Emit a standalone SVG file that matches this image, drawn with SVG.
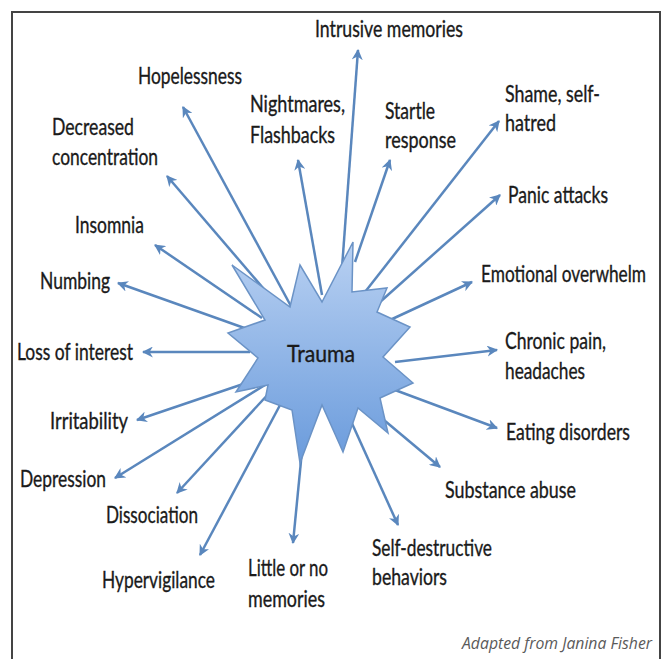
<svg xmlns="http://www.w3.org/2000/svg" width="667" height="659" viewBox="0 0 667 659">
<style>
.t{font-family:Lato,"Open Sans","Noto Sans",sans-serif;font-size:23px;fill:#1a1a1a;stroke:#1a1a1a;stroke-width:0.35}
.c line{stroke:#5a87bd;stroke-width:2.5;marker-end:url(#ah)}
.foot{font-family:"Open Sans","Noto Sans",sans-serif;font-style:italic;font-size:17px;fill:#5a5a5a}
</style>
<defs>
<marker id="ah" viewBox="0 0 10 10" refX="9" refY="5" markerWidth="4.4" markerHeight="4.4" orient="auto" markerUnits="strokeWidth">
<path d="M0,0 L10,5 L0,10 L3,5 z" fill="#5a87bd"/>
</marker>
<linearGradient id="g" x1="0" y1="0" x2="0" y2="1">
<stop offset="0" stop-color="#b9d1f2"/>
<stop offset="1" stop-color="#6a9bdc"/>
</linearGradient>
</defs>
<rect width="667" height="659" fill="#ffffff"/>
<path d="M12,659 V12 H660 V659" fill="none" stroke="#444" stroke-width="2"/>
<g id="connectors" class="c">
<line x1="292" y1="308" x2="183" y2="107"/>
<line x1="275" y1="302" x2="167" y2="176"/>
<line x1="262" y1="318" x2="155" y2="245"/>
<line x1="250" y1="330" x2="118" y2="283"/>
<line x1="250" y1="352" x2="143" y2="352"/>
<line x1="255" y1="380" x2="137" y2="420"/>
<line x1="265" y1="385" x2="115" y2="478"/>
<line x1="272" y1="390" x2="177" y2="493"/>
<line x1="287" y1="392" x2="200" y2="555"/>
<line x1="305" y1="420" x2="293" y2="543"/>
<line x1="345" y1="408" x2="398" y2="525"/>
<line x1="360" y1="400" x2="440" y2="467"/>
<line x1="395" y1="390" x2="497" y2="428"/>
<line x1="395" y1="362" x2="497" y2="350"/>
<line x1="390" y1="320" x2="472" y2="282"/>
<line x1="380" y1="302" x2="500" y2="195"/>
<line x1="365" y1="292" x2="499" y2="121"/>
<line x1="355" y1="262" x2="390" y2="160"/>
<line x1="342" y1="268" x2="358" y2="50"/>
<line x1="322" y1="295" x2="298" y2="160"/>
</g>
<g id="trauma">
<polygon points="232,265 290,307 300,265 322,302 353,242 352,292 387,288 377,312 410,327 383,357 413,383 380,398 388,433 358,408 343,452 322,405 300,463 292,410 265,400 268,385 236,392 258,358 228,333 265,320" fill="url(#g)" stroke="#6b93c6" stroke-width="1.5" stroke-linejoin="miter"/>
<text class="t" x="287" y="362" font-size="28" textLength="68" lengthAdjust="spacingAndGlyphs">Trauma</text>
</g>
<g id="n-intrusive"><text class="t" x="315" y="37" textLength="148" lengthAdjust="spacingAndGlyphs">Intrusive memories</text></g>
<g id="n-hopelessness"><text class="t" x="138" y="84" textLength="104" lengthAdjust="spacingAndGlyphs">Hopelessness</text></g>
<g id="n-nightmares"><text class="t" x="250" y="112" textLength="95" lengthAdjust="spacingAndGlyphs">Nightmares,</text><text class="t" x="250" y="143" textLength="85" lengthAdjust="spacingAndGlyphs">Flashbacks</text></g>
<g id="n-startle"><text class="t" x="385" y="119" textLength="50" lengthAdjust="spacingAndGlyphs">Startle</text><text class="t" x="385" y="148" textLength="71" lengthAdjust="spacingAndGlyphs">response</text></g>
<g id="n-shame"><text class="t" x="505" y="102" textLength="95" lengthAdjust="spacingAndGlyphs">Shame, self-</text><text class="t" x="505" y="131" textLength="51" lengthAdjust="spacingAndGlyphs">hatred</text></g>
<g id="n-decreased"><text class="t" x="52" y="135" textLength="82" lengthAdjust="spacingAndGlyphs">Decreased</text><text class="t" x="52" y="165" textLength="106" lengthAdjust="spacingAndGlyphs">concentration</text></g>
<g id="n-panic"><text class="t" x="508" y="203" textLength="100" lengthAdjust="spacingAndGlyphs">Panic attacks</text></g>
<g id="n-insomnia"><text class="t" x="75" y="233" textLength="69" lengthAdjust="spacingAndGlyphs">Insomnia</text></g>
<g id="n-emotional"><text class="t" x="481" y="282" font-size="22" textLength="165" lengthAdjust="spacingAndGlyphs">Emotional overwhelm</text></g>
<g id="n-numbing"><text class="t" x="40" y="289" textLength="70" lengthAdjust="spacingAndGlyphs">Numbing</text></g>
<g id="n-loss"><text class="t" x="17" y="360" textLength="116" lengthAdjust="spacingAndGlyphs">Loss of interest</text></g>
<g id="n-chronic"><text class="t" x="505" y="349" textLength="101" lengthAdjust="spacingAndGlyphs">Chronic pain,</text><text class="t" x="505" y="379" textLength="80" lengthAdjust="spacingAndGlyphs">headaches</text></g>
<g id="n-irritability"><text class="t" x="50" y="429" textLength="78" lengthAdjust="spacingAndGlyphs">Irritability</text></g>
<g id="n-eating"><text class="t" x="506" y="440" textLength="124" lengthAdjust="spacingAndGlyphs">Eating disorders</text></g>
<g id="n-depression"><text class="t" x="20" y="487" textLength="86" lengthAdjust="spacingAndGlyphs">Depression</text></g>
<g id="n-substance"><text class="t" x="445" y="498" textLength="131" lengthAdjust="spacingAndGlyphs">Substance abuse</text></g>
<g id="n-dissociation"><text class="t" x="106" y="523" textLength="92" lengthAdjust="spacingAndGlyphs">Dissociation</text></g>
<g id="n-selfdestructive"><text class="t" x="372" y="556" textLength="120" lengthAdjust="spacingAndGlyphs">Self-destructive</text><text class="t" x="372" y="585" textLength="75" lengthAdjust="spacingAndGlyphs">behaviors</text></g>
<g id="n-hypervigilance"><text class="t" x="102" y="588" textLength="113" lengthAdjust="spacingAndGlyphs">Hypervigilance</text></g>
<g id="n-little"><text class="t" x="248" y="576" textLength="80" lengthAdjust="spacingAndGlyphs">Little or no</text><text class="t" x="248" y="607" textLength="77" lengthAdjust="spacingAndGlyphs">memories</text></g>
<text class="foot" x="462" y="649" textLength="190" lengthAdjust="spacingAndGlyphs">Adapted from Janina Fisher</text>
</svg>
